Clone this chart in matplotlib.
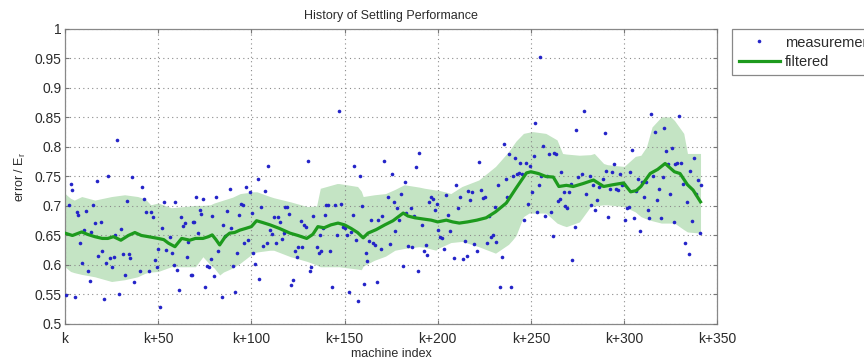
import matplotlib
matplotlib.use("Agg")
import matplotlib.pyplot as plt

plt.rcParams['font.family'] = ['Liberation Sans', 'DejaVu Sans']

# measurement points (machine index offset, error/Er)
meas_x = [0.8, 2.1, 3.1, 4.0, 5.3, 6.2, 7.1, 8.0, 9.2, 10.3, 11.2, 12.1, 13.2, 14.2, 15.1, 16.0, 17.1, 17.8,
          19.1, 20.0, 21.1, 22.1, 23.2, 24.1, 25.0, 26.1, 27.1, 28.0, 29.1, 30.2, 31.1, 32.2, 33.2, 34.1, 35.0,
          36.1, 37.2, 40.0, 41.1, 42.2, 43.3, 45.1, 46.1, 47.2, 48.3, 49.2, 50.1, 51.2, 52.2, 53.3, 54.4, 56.2,
          57.3, 58.3, 59.2, 60.3, 61.2, 62.3, 63.2, 64.2, 65.3, 66.2, 67.6, 68.9,
          68.4, 69.1, 70.2, 71.2, 72.3, 73.2, 74.1, 75.0, 76.3, 77.2, 78.2, 79.1, 80.0, 81.1, 82.2, 84.0, 85.0,
          86.1, 87.2, 88.3, 89.2, 90.2, 91.1, 92.2, 93.3, 94.2, 95.3, 96.2, 97.2, 98.3, 99.2, 100.1, 101.0,
          102.1, 103.3, 104.2, 105.1, 106.2, 107.1, 108.2, 109.2, 110.1, 111.2, 112.3, 113.2, 114.2, 115.3,
          116.4, 117.3, 118.2, 119.1, 120.3, 121.4, 122.3, 123.4, 124.3, 125.2, 126.4, 127.3, 128.2, 129.1,
          130.2, 131.3, 132.2, 133.2, 135.2, 136.3,
          136.6, 137.5, 138.4, 139.3, 140.2, 141.1, 142.2, 143.3, 145.1, 146.1, 147.2, 148.3, 149.4, 150.3,
          151.3, 152.4, 153.3, 154.4, 155.3, 156.4, 157.4, 158.3, 159.4, 160.3, 161.4, 162.3, 163.3, 164.2,
          165.1, 166.2, 167.3, 168.2, 169.3, 170.2, 171.2, 173.4, 174.3, 175.4, 176.4, 177.3, 178.2, 179.3,
          180.4, 181.3, 182.3, 183.2, 184.3, 185.4, 186.3, 187.4, 188.3, 189.3, 190.2, 191.3, 192.4, 193.5,
          194.4, 195.4, 196.3, 197.2, 198.3, 199.4, 200.3, 201.3, 202.2, 203.3, 204.2,
          205.5, 206.4, 208.5, 209.6, 210.8, 212.1, 213.5, 214.4, 215.5, 216.4, 217.5, 218.5, 219.5, 221.2,
          222.3, 223.4, 224.5, 225.4, 226.4, 227.5, 228.6, 229.5, 230.6, 231.5, 232.3, 233.4, 234.3, 235.4,
          236.5, 237.4, 238.4, 239.5, 240.4, 241.3, 242.4, 243.5, 244.4, 245.4, 246.3, 247.4, 248.5, 249.4,
          250.5, 251.5, 252.4, 253.5, 254.6, 255.0, 255.5, 256.5, 257.6, 258.7, 259.6, 260.7, 261.6, 262.6,
          263.5, 264.6, 265.5, 266.4, 267.5, 268.5, 269.4, 270.5, 271.4, 272.3, 273.4, 274.3, 275.4,
          277.3, 278.4, 279.7, 281.5, 282.4, 283.4, 284.5, 285.6, 286.7, 287.7, 288.6, 289.5, 290.4, 291.3,
          292.4, 293.5, 294.5, 295.6, 296.7, 297.6, 298.7, 299.7, 300.6, 301.7, 302.4, 303.3, 304.4, 305.5,
          306.5, 307.4, 308.5, 309.6, 310.5, 311.6, 312.6, 313.5, 314.6, 315.5, 316.6, 317.7, 318.6, 319.6,
          320.7, 321.6, 322.7, 323.6, 324.6, 325.5, 326.6, 327.5, 328.6, 329.5, 330.6, 331.6, 332.5, 333.6,
          334.7, 335.6, 336.6, 337.5, 338.6, 339.7, 340.6, 341.5]
meas_y = [0.549, 0.702, 0.738, 0.727, 0.546, 0.690, 0.685, 0.637, 0.603, 0.659, 0.691, 0.589, 0.573, 0.656,
          0.702, 0.671, 0.743, 0.616, 0.672, 0.624, 0.542, 0.604, 0.751, 0.612, 0.597, 0.614, 0.651, 0.812,
          0.550, 0.661, 0.619, 0.583, 0.709, 0.619, 0.611, 0.749, 0.572, 0.589, 0.732, 0.711, 0.690, 0.589,
          0.690, 0.682, 0.608, 0.596, 0.627, 0.529, 0.662, 0.706, 0.625, 0.648, 0.621, 0.600, 0.706, 0.591,
          0.557, 0.681, 0.666, 0.671, 0.614, 0.639, 0.583, 0.673,
          0.583, 0.673, 0.715, 0.655, 0.693, 0.686, 0.711, 0.563, 0.599, 0.597, 0.610, 0.683, 0.581, 0.716,
          0.623, 0.545, 0.668, 0.649, 0.691, 0.729, 0.662, 0.598, 0.554, 0.621, 0.685, 0.704, 0.702, 0.638,
          0.732, 0.642, 0.724, 0.688, 0.621, 0.601, 0.746, 0.576, 0.698, 0.632, 0.726, 0.638, 0.767, 0.659,
          0.653, 0.682, 0.638, 0.682, 0.673, 0.644, 0.655, 0.698, 0.699, 0.686, 0.566, 0.574, 0.623, 0.613,
          0.631, 0.675, 0.630, 0.668, 0.665, 0.777, 0.590, 0.597, 0.683, 0.631, 0.621,
          0.651, 0.623, 0.662, 0.685, 0.701, 0.702, 0.623, 0.562, 0.702, 0.650, 0.861, 0.703, 0.664, 0.662,
          0.650, 0.554, 0.656, 0.684, 0.768, 0.642, 0.539, 0.750, 0.700, 0.568, 0.621, 0.606, 0.641, 0.676,
          0.637, 0.634, 0.572, 0.677, 0.627, 0.683, 0.776, 0.715, 0.636, 0.754, 0.706, 0.658, 0.696, 0.677,
          0.720, 0.598, 0.740, 0.688, 0.632, 0.696, 0.631, 0.683, 0.766, 0.589, 0.790, 0.668, 0.623, 0.634,
          0.617, 0.706, 0.715, 0.712, 0.693, 0.703, 0.660, 0.647, 0.646, 0.627, 0.719,
          0.685, 0.658, 0.611, 0.736, 0.696, 0.716, 0.610, 0.641, 0.615, 0.726, 0.710, 0.723, 0.636, 0.623,
          0.775, 0.727, 0.713, 0.716, 0.637, 0.683, 0.648, 0.650, 0.699, 0.639, 0.736, 0.562, 0.613, 0.805,
          0.746, 0.716, 0.788, 0.562, 0.751, 0.782, 0.754, 0.756, 0.773, 0.755, 0.676, 0.772, 0.704, 0.768,
          0.724, 0.784, 0.840, 0.689, 0.736, 0.952, 0.751, 0.802, 0.683, 0.750, 0.788, 0.689, 0.649, 0.790,
          0.788, 0.709, 0.711, 0.757, 0.723, 0.700, 0.696, 0.723, 0.738, 0.608, 0.664, 0.828, 0.749,
          0.755, 0.861, 0.721, 0.751, 0.702, 0.735, 0.694, 0.710, 0.733, 0.735, 0.745, 0.823, 0.760, 0.681,
          0.729, 0.758, 0.771, 0.728, 0.727, 0.754, 0.735, 0.737, 0.676, 0.696, 0.698, 0.758, 0.795, 0.680,
          0.726, 0.745, 0.658, 0.741, 0.715, 0.741, 0.694, 0.680, 0.856, 0.751, 0.826, 0.710, 0.728, 0.680,
          0.749, 0.833, 0.794, 0.771, 0.720, 0.799, 0.673, 0.771, 0.772, 0.853, 0.773, 0.738, 0.638, 0.706,
          0.619, 0.760, 0.675, 0.781, 0.720, 0.744, 0.654, 0.735]

# filtered estimate
filt_x = [0, 4, 9, 12, 16, 20, 23, 26, 30, 34, 37.5, 41, 44.7, 50, 53, 55.5, 59, 62.6, 67, 70, 74, 77, 79,
          81, 83, 86, 88.4, 91, 93.8, 97, 100, 102.8, 106, 110, 115, 120.7, 125, 129.7, 133, 135.7, 139,
          142.7, 146.5, 150, 153.5, 157, 160, 162.6, 167, 171.6, 176, 181.5, 184, 187.7, 192, 196.5, 200,
          204.6, 208, 211.6, 216, 221, 226, 231, 236.8, 242, 247.6, 250, 254, 258, 262, 265, 269, 272.7,
          278, 283.6, 289, 294, 299.7, 303.5, 306.5, 309, 314, 318, 322, 324.5, 327, 330, 334, 337, 341]
filt_y = [0.654, 0.650, 0.656, 0.652, 0.648, 0.645, 0.645, 0.648, 0.642, 0.650, 0.655, 0.650, 0.648, 0.645,
          0.643, 0.637, 0.631, 0.645, 0.642, 0.645, 0.645, 0.648, 0.651, 0.643, 0.634, 0.648, 0.654, 0.655,
          0.659, 0.662, 0.665, 0.675, 0.672, 0.668, 0.662, 0.654, 0.650, 0.645, 0.652, 0.665, 0.663, 0.668,
          0.671, 0.668, 0.662, 0.655, 0.646, 0.654, 0.660, 0.668, 0.675, 0.688, 0.683, 0.680, 0.678, 0.676,
          0.673, 0.676, 0.673, 0.671, 0.673, 0.676, 0.680, 0.690, 0.705, 0.730, 0.756, 0.758, 0.755, 0.750,
          0.749, 0.733, 0.735, 0.733, 0.738, 0.744, 0.733, 0.736, 0.739, 0.724, 0.726, 0.733, 0.755, 0.762,
          0.772, 0.765, 0.758, 0.755, 0.736, 0.727, 0.707]

# uncertainty band
band_x = [0, 3, 5, 9, 16, 25, 32, 39, 43, 46, 50, 57, 64, 70, 74, 78, 80, 83, 85, 90, 94, 101, 103, 110,
          112, 121, 130, 135, 137, 146, 147, 157, 159, 160, 166, 172, 177, 182, 190, 193, 199, 200, 205,
          207, 213, 222, 231, 238, 240, 242, 246, 249, 251, 258, 264, 267, 269, 276, 282, 284, 289, 291,
          300, 306, 309, 312, 315, 320, 325, 327, 332, 334, 341]
band_hi = [0.721, 0.713, 0.710, 0.716, 0.710, 0.716, 0.719, 0.716, 0.712, 0.702, 0.705, 0.697, 0.699,
           0.701, 0.701, 0.702, 0.705, 0.708, 0.710, 0.715, 0.721, 0.724, 0.724, 0.716, 0.714, 0.707, 0.699,
           0.700, 0.730, 0.738, 0.738, 0.733, 0.725, 0.716, 0.719, 0.721, 0.728, 0.736, 0.732, 0.730, 0.727,
           0.727, 0.723, 0.721, 0.733, 0.744, 0.767, 0.792, 0.801, 0.810, 0.823, 0.825, 0.826, 0.823, 0.812,
           0.789, 0.788, 0.786, 0.787, 0.789, 0.772, 0.770, 0.767, 0.784, 0.786, 0.800, 0.834, 0.851, 0.851,
           0.845, 0.823, 0.789, 0.789]
band_lo = [0.597, 0.589, 0.587, 0.584, 0.580, 0.572, 0.575, 0.580, 0.586, 0.588, 0.589, 0.597, 0.597,
           0.597, 0.614, 0.600, 0.595, 0.583, 0.588, 0.595, 0.603, 0.620, 0.622, 0.625, 0.625, 0.614, 0.606,
           0.600, 0.597, 0.597, 0.597, 0.593, 0.592, 0.598, 0.608, 0.615, 0.625, 0.628, 0.631, 0.630, 0.625,
           0.628, 0.635, 0.638, 0.640, 0.631, 0.620, 0.635, 0.642, 0.650, 0.682, 0.688, 0.688, 0.688, 0.671,
           0.667, 0.665, 0.673, 0.699, 0.700, 0.702, 0.702, 0.699, 0.690, 0.682, 0.678, 0.675, 0.671, 0.671,
           0.671, 0.660, 0.656, 0.654]

x_ticks = [0, 50, 100, 150, 200, 250, 300, 350]
x_labels = ['k', 'k+50', 'k+100', 'k+150', 'k+200', 'k+250', 'k+300', 'k+350']
y_ticks = [0.5, 0.55, 0.6, 0.65, 0.7, 0.75, 0.8, 0.85, 0.9, 0.95, 1.0]
y_labels = ['0.5', '0.55', '0.6', '0.65', '0.7', '0.75', '0.8', '0.85', '0.9', '0.95', '1']

fig = plt.figure(figsize=(8.64, 3.62), dpi=100)
ax = fig.add_axes([0.0752, 0.105, 0.755, 0.815])

text_col = '#2b2b2b'
ax.fill_between(band_x, band_lo, band_hi, color='#c4e4c4', linewidth=0, zorder=1)
ax.plot(meas_x, meas_y, linestyle='none', marker='o', markersize=2.6, color='#2424c8',
        markeredgewidth=0, label='measurement', zorder=3)
ax.plot(filt_x, filt_y, color='#1d9a1d', linewidth=2.3, label='filtered', zorder=4)

ax.set_xlim(0, 350)
ax.set_ylim(0.5, 1.0)
ax.set_xticks(x_ticks)
ax.set_xticklabels(x_labels)
ax.set_yticks(y_ticks)
ax.set_yticklabels(y_labels)
ax.grid(True, color='#8a8a8a', linestyle=(0, (1, 3)), linewidth=0.8, zorder=2)
ax.set_axisbelow(False)
ax.tick_params(direction='in', top=True, right=True, length=3, width=0.8, color='#777777',
               labelsize=10, labelcolor=text_col)
ax.tick_params(axis='x', pad=6)
ax.tick_params(axis='y', pad=2.5)
for s in ax.spines.values():
    s.set_color('#888888')
    s.set_linewidth(0.9)

ax.set_title('History of Settling Performance', fontsize=9, color=text_col, pad=7)
ax.set_xlabel('machine index', fontsize=9, color=text_col, labelpad=1.5)
ax.set_ylabel('error / E$_\\mathregular{r}$', fontsize=9, color=text_col, labelpad=5)

leg = ax.legend(loc='upper left', bbox_to_anchor=(1.023, 1.0), borderaxespad=0, fancybox=False,
                edgecolor='#888888', fontsize=10.5, handlelength=2.8, numpoints=1, markerscale=1.0,
                borderpad=0.45, labelspacing=0.35, handletextpad=0.35, framealpha=1)
leg.get_frame().set_linewidth(0.9)
for t in leg.get_texts():
    t.set_color(text_col)

fig.savefig('out.png', dpi=100)
